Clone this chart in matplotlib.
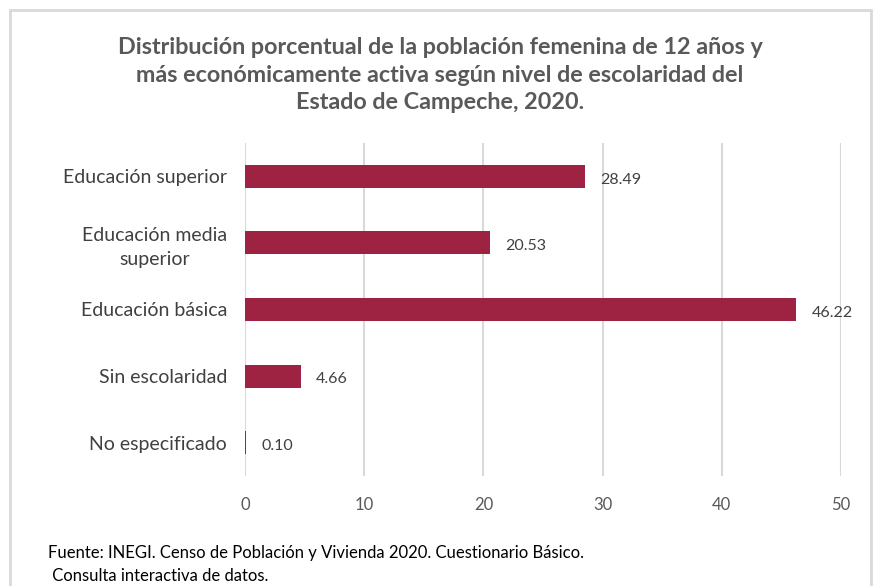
import matplotlib
matplotlib.use('Agg')
import matplotlib.pyplot as plt
from matplotlib.patches import Rectangle

plt.rcParams['font.family'] = ['Lato', 'DejaVu Sans']

categorias = ['Educación superior', 'Educación media\nsuperior', 'Educación básica',
              'Sin escolaridad', 'No especificado']
valores = [28.49, 20.53, 46.22, 4.66, 0.10]
etiquetas = ['28.49', '20.53', '46.22', '4.66', '0.10']
ticks_x = [0, 10, 20, 30, 40, 50]

titulo = ('Distribución porcentual de la población femenina de 12 años y\n'
          'más económicamente activa según nivel de escolaridad del\n'
          'Estado de Campeche, 2020.')
fuente = 'Fuente: INEGI. Censo de Población y Vivienda 2020. Cuestionario Básico.'
fuente2 = ' Consulta interactiva de datos.'

color_barra = '#9E2241'

fig = plt.figure(figsize=(8.8, 5.86), dpi=100)

# marco gris del grafico
fig.patches.append(Rectangle((10 / 880, -0.05), 861 / 880, 1 - 10 / 586 + 0.05,
                             transform=fig.transFigure, fill=False,
                             edgecolor='#d9d9d9', linewidth=2))

ax = fig.add_axes([245 / 880, 1 - 476 / 586, 596 / 880, 333 / 586])
pos = list(range(len(categorias)))
ax.barh(pos, valores, height=0.345, color=color_barra, zorder=3)
for p, v, t in zip(pos, valores, etiquetas):
    ax.text(v + 1.3, p + 0.05, t, va='center', ha='left', fontsize=11.5, color='#404040')

ax.set_xlim(0, 50)
ax.set_ylim(4.5, -0.5)
ax.set_xticks(ticks_x)
ax.set_yticks(pos)
ax.set_yticklabels(categorias, multialignment='center', linespacing=1.45)
ax.tick_params(axis='y', length=0, pad=13, labelsize=14, labelcolor='#404040')
ax.tick_params(axis='x', length=0, pad=15, labelsize=12, labelcolor='#595959')
ax.grid(axis='x', color='#d9d9d9', linewidth=1.5, zorder=0)
for s in ax.spines.values():
    s.set_visible(False)

fig.text(0.5, 1 - 75 / 586, titulo, ha='center', va='center', fontsize=16.8,
         fontweight='bold', color='#595959', linespacing=1.38)
fig.text(48 / 880, 1 - 553 / 586, fuente, ha='left', va='center', fontsize=12, color='#000000')
fig.text(48 / 880, 1 - 576 / 586, fuente2, ha='left', va='center', fontsize=12, color='#000000')

fig.savefig('out.png', dpi=100)
